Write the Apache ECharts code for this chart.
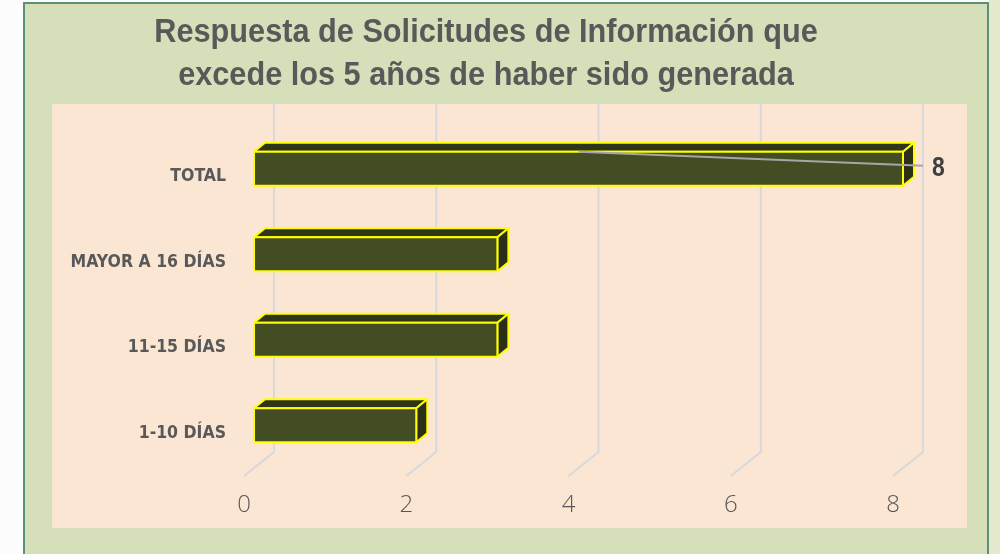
<!DOCTYPE html>
<html>
<head>
<meta charset="utf-8">
<script src="https://cdn.jsdelivr.net/npm/echarts@6/dist/echarts.min.js"></script>
<style>
    html,body{margin:0;padding:0;background:#fcfcfc;}
    #main{width:1000px;height:554px;}
</style>
</head>
<body>
<div id="main"></div>
<script>
// datos (de abajo hacia arriba)
var categorias = ['1-10 DÍAS', '11-15 DÍAS', 'MAYOR A 16 DÍAS', 'TOTAL'];
var valores = [2, 3, 3, 8];
var mostrarEtiqueta = [false, false, false, true];
var ticks = [0, 2, 4, 6, 8];
var titulo = ['Respuesta de Solicitudes de Información que', 'excede los 5 años de haber sido generada'];

var narrow = '"Liberation Sans Narrow", "Arial Narrow", "DejaVu Sans Condensed", sans-serif';

var chart = echarts.init(document.getElementById('main'));

var barData = valores.map(function (v, i) { return [v, i]; });
var gridData = ticks.map(function (t) { return [t, 0]; });

// titulo con letra angosta (Liberation Sans comprimida)
var tituloGraphic = titulo.map(function (t, i) {
    return {
        type: 'text', z: 10, x: 486, y: 33 + i * 43, scaleX: 0.93,
        style: {text: t, x: 0, y: 0, align: 'center', verticalAlign: 'middle',
            font: 'bold 33px "Liberation Sans", Arial, sans-serif', fill: '#595959'}
    };
});

var option = {
    backgroundColor: '#fcfcfc',
    animation: false,
    graphic: [
        {type: 'rect', z: -30, shape: {x: 989, y: 0, width: 11, height: 554}, style: {fill: '#e5eacf'}},
        {type: 'rect', z: -20, shape: {x: 24, y: 3, width: 964, height: 570},
            style: {fill: '#d5dfb9', stroke: '#5b9274', lineWidth: 2}},
        {type: 'rect', z: -10, shape: {x: 52, y: 104, width: 915, height: 424}, style: {fill: '#fae6d2'}}
    ].concat(tituloGraphic),
    grid: {left: 244, right: 107, top: 134, bottom: 78},
    xAxis: {
        type: 'value',
        min: 0,
        max: 8,
        interval: 2,
        axisLine: {show: false},
        axisTick: {show: false},
        splitLine: {show: false},
        axisLabel: {
            margin: 17,
            fontSize: 24,
            fontWeight: 300,
            fontFamily: '"Open Sans", sans-serif',
            color: '#595959'
        }
    },
    yAxis: {
        type: 'category',
        data: categorias,
        axisLine: {show: false},
        axisTick: {show: false},
        axisLabel: {
            margin: 18,
            fontSize: 17.5,
            fontWeight: 'bold',
            fontFamily: narrow,
            color: '#595959'
        }
    },
    series: [
        {
            // lineas de division en perspectiva
            type: 'custom',
            z: 1,
            silent: true,
            data: gridData,
            encode: {x: 0, y: 1},
            renderItem: function (params, api) {
                var cs = params.coordSys;
                var p = api.coord([api.value(0), 0]);
                var bottom = cs.y + cs.height;
                return {
                    type: 'polyline',
                    shape: {points: [[p[0], bottom], [p[0] + 30, bottom - 24], [p[0] + 30, cs.y - 30]]},
                    style: {fill: null, stroke: '#d6d8dc', lineWidth: 1.8}
                };
            }
        },
        {
            // barras 3D
            type: 'custom',
            z: 3,
            data: barData,
            encode: {x: 0, y: 1},
            renderItem: function (params, api) {
                var idx = api.value(1);
                var start = api.coord([0, idx]);
                var end = api.coord([api.value(0), idx]);
                var x0 = start[0] + 10, x1 = end[0] + 10;
                var yc = start[1] - 8;
                var y0 = yc - 17, y1 = yc + 17;
                var dx = 11, dy = -9;
                var edge = {stroke: '#ffff00', lineWidth: 2, lineJoin: 'round'};
                var children = [
                    {type: 'polygon', shape: {points: [[x0, y0], [x0 + dx, y0 + dy], [x1 + dx, y0 + dy], [x1, y0]]},
                        style: Object.assign({fill: '#2f3519'}, edge)},
                    {type: 'polygon', shape: {points: [[x1, y0], [x1 + dx, y0 + dy], [x1 + dx, y1 + dy], [x1, y1]]},
                        style: Object.assign({fill: '#2b2f17'}, edge)},
                    {type: 'rect', shape: {x: x0, y: y0, width: x1 - x0, height: y1 - y0},
                        style: Object.assign({fill: '#434d23'}, edge)}
                ];
                if (mostrarEtiqueta[params.dataIndex]) {
                    children.push({type: 'line', z2: 5,
                        shape: {x1: (x0 + x1) / 2, y1: y0, x2: end[0] + 30, y2: yc - 3},
                        style: {stroke: '#a6a6a6', lineWidth: 2}});
                    children.push({type: 'text', z2: 6, x: end[0] + 39, y: yc, scaleX: 0.82,
                        style: {x: 0, y: 0, text: String(api.value(0)),
                            align: 'left', verticalAlign: 'middle',
                            font: 'bold 28px "Liberation Sans", Arial, sans-serif', fill: '#404040'}});
                }
                return {type: 'group', children: children};
            }
        }
    ]
};

chart.setOption(option);
</script>
</body>
</html>
